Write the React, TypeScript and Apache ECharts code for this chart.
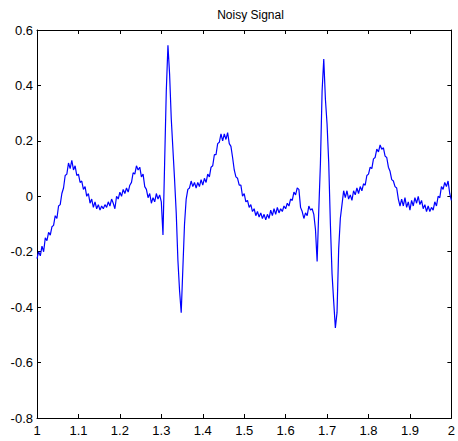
import React, { useEffect, useRef } from "react";
import * as echarts from "echarts";

// Sample times: start and step of the recorded signal
const tStart = 1;
const tStep = 0.004;

// Noisy ECG-like signal values (one per sample)
const signal: number[] = [
  -0.225, -0.2, -0.215, -0.18, -0.2, -0.15, -0.16, -0.13, -0.14, -0.11,
  -0.105, -0.07, -0.08, -0.035, -0.03, 0.01, 0.03, 0.075, 0.08, 0.12,
  0.1, 0.13, 0.095, 0.11, 0.075, 0.08, 0.05, 0.055, 0.025, 0.035,
  0.0, 0.01, -0.025, -0.01, -0.04, -0.02, -0.045, -0.03, -0.05, -0.035,
  -0.045, -0.03, -0.04, -0.02, -0.035, -0.01, -0.025, -0.045, 0.0, -0.01,
  0.015, 0.0, 0.025, 0.01, 0.03, 0.015, 0.04, 0.05, 0.085, 0.08,
  0.11, 0.095, 0.105, 0.07, 0.08, 0.035, 0.025, -0.005, 0.01, -0.025,
  -0.005, -0.02, 0.01, -0.01, 0.005, -0.02, -0.14, 0.12, 0.38, 0.545,
  0.44, 0.28, 0.17, 0.06, -0.06, -0.23, -0.34, -0.42, -0.26, -0.1,
  -0.01, 0.025, 0.03, 0.055, 0.035, 0.05, 0.03, 0.05, 0.035, 0.06,
  0.04, 0.065, 0.05, 0.08, 0.07, 0.105, 0.11, 0.15, 0.15, 0.19,
  0.195, 0.225, 0.2, 0.225, 0.205, 0.23, 0.19, 0.18, 0.14, 0.095,
  0.07, 0.065, 0.04, 0.04, 0.0, 0.01, -0.02, -0.015, -0.04, -0.03,
  -0.055, -0.045, -0.07, -0.055, -0.075, -0.06, -0.08, -0.065, -0.085, -0.065,
  -0.08, -0.05, -0.07, -0.045, -0.065, -0.04, -0.06, -0.045, -0.055, -0.035,
  -0.045, -0.025, -0.035, -0.01, -0.015, 0.015, 0.005, 0.03, 0.025, -0.04,
  -0.055, -0.08, -0.06, -0.07, -0.035, -0.05, -0.045, -0.065, -0.12, -0.235,
  -0.05, 0.12, 0.38, 0.495, 0.35, 0.26, 0.12, -0.1, -0.28, -0.38,
  -0.475, -0.42, -0.19, -0.08, -0.03, 0.02, -0.005, 0.02, -0.01, 0.005,
  -0.015, 0.02, 0.005, 0.03, 0.01, 0.035, 0.02, 0.045, 0.04, 0.075,
  0.08, 0.105, 0.1, 0.135, 0.14, 0.17, 0.16, 0.185, 0.17, 0.175,
  0.145, 0.14, 0.105, 0.09, 0.06, 0.055, 0.035, 0.03, -0.01, -0.035,
  -0.01, -0.035, -0.005, -0.04, -0.02, -0.05, -0.015, -0.035, -0.005, -0.025,
  0.0, -0.03, -0.015, -0.045, -0.03, -0.055, -0.035, -0.055, -0.04, -0.05,
  -0.02, -0.035, 0.0, -0.005, 0.035, 0.025, 0.05, 0.035, 0.055, 0.01, -0.015,
];

// Axis ranges / tick steps
const xRange = [1, 2];
const xStep = 0.1;
const yRange = [-0.8, 0.6];
const yStep = 0.2;
const titleText = "Noisy Signal";

const FONT = "Liberation Sans, Arial, Helvetica, sans-serif";

const fmt = (v: number) => String(parseFloat(Number(v).toFixed(1)));

export default function App() {
  const ref = useRef<HTMLDivElement>(null);

  useEffect(() => {
    if (!ref.current) return;
    const chart = echarts.init(ref.current, null, { renderer: "svg" });
    const data = signal.map((v, i) => [tStart + i * tStep, v]);

    const axisLine = { show: true, onZero: false, lineStyle: { color: "#000", width: 1 } };
    const axisTick = { show: true, inside: true, length: 4, lineStyle: { color: "#000", width: 1 } };
    const label = { color: "#000", fontSize: 13, fontFamily: FONT, formatter: fmt };

    chart.setOption({
      animation: false,
      backgroundColor: "#fff",
      title: {
        text: titleText,
        left: 245.5,
        textAlign: "center",
        top: 4,
        textStyle: { color: "#000", fontSize: 12, fontWeight: "normal", fontFamily: FONT },
      },
      grid: { left: 37, right: 4, top: 30, bottom: 23, containLabel: false },
      xAxis: [
        {
          type: "value", min: xRange[0], max: xRange[1], interval: xStep, position: "bottom",
          axisLine, axisTick, splitLine: { show: false },
          axisLabel: { ...label, margin: 6, showMinLabel: true, showMaxLabel: true },
        },
        {
          type: "value", min: xRange[0], max: xRange[1], interval: xStep, position: "top",
          axisLine, axisTick, splitLine: { show: false }, axisLabel: { show: false },
        },
      ],
      yAxis: [
        {
          type: "value", min: yRange[0], max: yRange[1], interval: yStep, position: "left",
          axisLine, axisTick, splitLine: { show: false },
          axisLabel: { ...label, margin: 4, showMinLabel: true, showMaxLabel: true },
        },
        {
          type: "value", min: yRange[0], max: yRange[1], interval: yStep, position: "right",
          axisLine, axisTick, splitLine: { show: false }, axisLabel: { show: false },
        },
      ],
      series: [
        {
          type: "line",
          xAxisIndex: 0,
          yAxisIndex: 0,
          data,
          showSymbol: false,
          symbol: "none",
          lineStyle: { color: "#0000ff", width: 1.2 },
        },
      ],
    });
    return () => chart.dispose();
  }, []);

  return (
    <div
      ref={ref}
      style={{ position: "fixed", left: 0, top: 0, width: 458, height: 441, background: "#fff" }}
    />
  );
}
